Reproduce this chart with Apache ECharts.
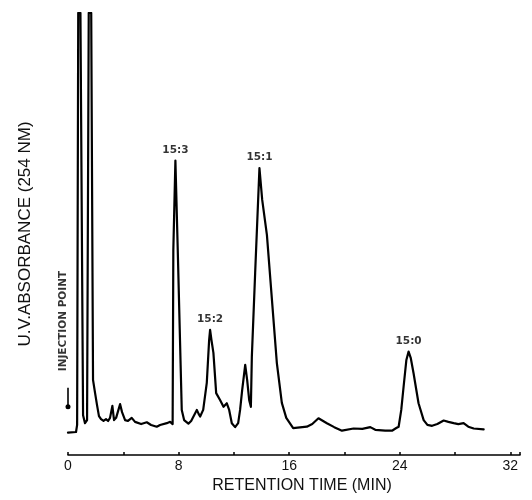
<!DOCTYPE html>
<html>
<head>
<meta charset="utf-8">
<script src="https://cdn.jsdelivr.net/npm/echarts@6/dist/echarts.min.js"></script>
<style>
  html, body { margin: 0; padding: 0; background: #fff; }
  #chart { width: 532px; height: 500px; }
</style>
</head>
<body>
<div id="chart"></div>
<script>
// Retention time (min)
const times = [0, 0.58, 0.66, 0.74, 0.90, 1.09, 1.23, 1.38, 1.50, 1.68, 1.81, 1.96, 2.10, 2.24, 2.39, 2.57, 2.75, 2.90, 3.04, 3.21, 3.33, 3.48, 3.77, 3.91, 4.13, 4.34, 4.61, 4.85, 5.29, 5.70, 6.01, 6.42, 6.66, 7.15, 7.39, 7.57, 7.62, 7.77, 7.94, 8.23, 8.40, 8.71, 8.91, 9.32, 9.45, 9.56, 9.78, 10.04, 10.21, 10.28, 10.38, 10.52, 10.72, 11.01, 11.25, 11.49, 11.66, 11.85, 12.09, 12.31, 12.45, 12.60, 12.82, 12.96, 13.11, 13.23, 13.30, 13.54, 13.85, 14.05, 14.39, 14.70, 15.11, 15.47, 15.79, 16.29, 17.28, 17.67, 18.12, 18.73, 19.26, 19.82, 20.66, 21.29, 21.87, 22.23, 22.95, 23.44, 23.75, 23.92, 24.11, 24.28, 24.48, 24.64, 24.80, 25.00, 25.20, 25.36, 25.73, 26.00, 26.34, 26.72, 27.18, 27.52, 27.90, 28.24, 28.62, 28.96, 29.35, 30.07];
// UV absorbance (arbitrary units)
const absorbance = [5.05, 5.2, 6.8, 100, 100, 9.0, 7.2, 7.9, 100, 100, 17.0, 14.0, 11.3, 8.8, 8.1, 7.7, 8.1, 7.7, 8.4, 11.1, 7.9, 8.4, 11.5, 9.7, 7.9, 7.7, 8.4, 7.5, 7.0, 7.4, 6.8, 6.4, 6.8, 7.2, 7.5, 7.0, 46.4, 66.6, 46.4, 10.2, 7.9, 7.1, 7.7, 10.2, 9.3, 8.7, 10.2, 16.3, 26.0, 28.3, 26.0, 23.1, 14.0, 12.4, 10.9, 11.7, 10.2, 7.2, 6.3, 7.2, 10.2, 14.7, 20.4, 17.0, 12.4, 10.9, 22.2, 41.2, 64.9, 57.7, 49.8, 37.3, 20.8, 11.8, 8.4, 6.1, 6.4, 7.0, 8.3, 7.2, 6.3, 5.5, 6.0, 5.9, 6.3, 5.7, 5.5, 5.5, 6.1, 6.4, 10.2, 15.5, 21.5, 23.4, 21.9, 18.5, 14.7, 11.7, 7.9, 6.8, 6.6, 7.0, 7.8, 7.5, 7.2, 7.0, 7.2, 6.4, 6.0, 5.8];

// Peak annotations
const peakNames = ['15:3', '15:2', '15:1', '15:0'];
const peakTimes = [7.77, 10.28, 13.85, 24.64];
const peakHeights = [66.6, 28.3, 64.9, 23.4];

// Injection point annotation
const injectionText = 'INJECTION POINT';
const injectionTextPos = [-0.36, 30.3];
const injectionArrow = [[0, 15.2], [0, 10.9]];

const xTicks = [0, 8, 16, 24, 32];

const chart = echarts.init(document.getElementById('chart'), null, { renderer: 'canvas' });

const series = [
  {
    type: 'line',
    data: times.map((t, i) => [t, absorbance[i]]),
    symbol: 'none',
    smooth: false,
    lineStyle: { color: '#000', width: 2.2, join: 'round', cap: 'round' },
    clip: true,
    silent: true,
    markLine: {
      silent: true,
      symbol: ['none', 'circle'],
      symbolSize: 5,
      lineStyle: { color: '#000', width: 1.6, type: 'solid' },
      label: { show: false },
      data: [[{ coord: injectionArrow[0] }, { coord: injectionArrow[1] }]]
    }
  },
  {
    type: 'scatter',
    data: peakNames.map((n, i) => ({ name: n, value: [peakTimes[i], peakHeights[i]] })),
    symbolSize: 0,
    silent: true,
    clip: false,
    label: {
      show: true,
      position: 'top',
      distance: 5,
      formatter: p => p.name,
      fontFamily: 'DejaVu Sans',
      fontWeight: 'bold',
      fontSize: 10.5,
      color: '#000'
    }
  },
  {
    type: 'scatter',
    data: [{ name: injectionText, value: injectionTextPos }],
    symbolSize: 0,
    silent: true,
    clip: false,
    label: {
      show: true,
      position: 'inside',
      rotate: 90,
      formatter: p => p.name,
      fontFamily: 'DejaVu Sans',
      fontWeight: 'bold',
      fontSize: 10.5,
      color: '#000'
    }
  }
];

chart.setOption({
  backgroundColor: '#fff',
  animation: false,
  grid: { left: 68, right: 12, top: 13, bottom: 45, containLabel: false },
  xAxis: {
    type: 'value',
    min: 0,
    max: 32.7,
    interval: 4,
    name: 'RETENTION TIME (MIN)',
    nameLocation: 'middle',
    nameGap: 20,
    nameTextStyle: { fontFamily: 'Liberation Sans', fontSize: 16, color: '#111', padding: [0, 0, 0, 16] },
    axisLine: { show: true, lineStyle: { color: '#000', width: 1.6 } },
    axisTick: { show: true, inside: true, length: 3, lineStyle: { color: '#000', width: 1.5 } },
    axisLabel: {
      show: true,
      margin: 4,
      fontFamily: 'Liberation Sans',
      fontSize: 14,
      color: '#111',
      showMaxLabel: true,
      formatter: v => (xTicks.indexOf(v) >= 0 ? String(v) : '')
    },
    splitLine: { show: false }
  },
  yAxis: {
    type: 'value',
    min: 0,
    max: 100,
    name: 'U.V.ABSORBANCE (254 NM)',
    nameLocation: 'middle',
    nameGap: 34,
    nameTextStyle: { fontFamily: 'Liberation Sans', fontSize: 17, color: '#111' },
    axisLine: { show: false },
    axisTick: { show: false },
    axisLabel: { show: false },
    splitLine: { show: false }
  },
  series: series
});
</script>
</body>
</html>
